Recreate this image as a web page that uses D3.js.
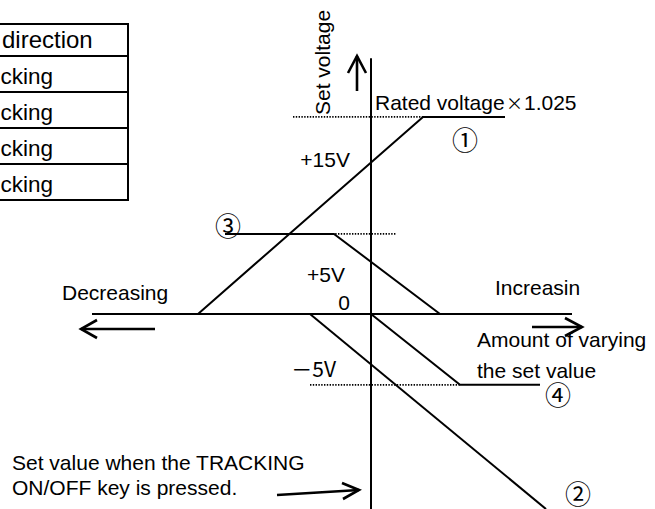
<!DOCTYPE html>
<html>
<head>
<meta charset="utf-8">
<script src="https://cdn.jsdelivr.net/npm/d3@7"></script>
<style>
  html, body { margin: 0; padding: 0; background: #fff; }
  svg { display: block; }
  text { font-family: "Liberation Sans", Arial, sans-serif; fill: #000; }
  .cjk { font-family: "Noto Sans CJK JP", "Liberation Sans", sans-serif; }
</style>
</head>
<body>
<script>
// ---- data (x: amount of varying the set value, y: set voltage) ----
const seriesNames = ["①", "②", "③", "④"];
const s1x = [-17.3, 5.2, 13.4];
const s1y = [0, 19.2, 19.2];
const s2x = [-6.1, 17.5];
const s2y = [0, -19.0];
const s3x = [-14.6, -3.7, 6.9];
const s3y = [7.8, 7.8, 0];
const s4x = [0, 8.9, 16.9];
const s4y = [0, -6.9, -6.9];
// dotted guide lines: level, from, to
const guideLevel = [19.2, 7.8, -6.9];
const guideFrom = [-7.8, -6.1, -6.1];
const guideTo = [5.2, 2.5, 8.9];
// voltage labels
const tickValues = [15, 5, 0, -5];
const tickLabels = ["+15V", "+5V", "0", "－5V"];
// table rows (left part clipped in the original)
const tableRows = ["direction", "cking", "cking", "cking", "cking"];

const W = 655, H = 509;
const svg = d3.select("body").append("svg").attr("width", W).attr("height", H);

const x = d3.scaleLinear().domain([0, 10]).range([371, 471]);
const y = d3.scaleLinear().domain([0, 15]).range([314, 160]);

const line = d3.line().x(d => x(d[0])).y(d => y(d[1]));
const zipXY = (xs, ys) => xs.map((v, i) => [v, ys[i]]);

// ---- axes ----
svg.append("path").attr("d", line([[0, 24.9], [0, -19.2]]))
  .attr("stroke", "#000").attr("stroke-width", 2).attr("fill", "none");
svg.append("path").attr("d", line([[-27.9, 0], [20.1, 0]]))
  .attr("stroke", "#000").attr("stroke-width", 2).attr("fill", "none");

// ---- dotted guides ----
guideLevel.forEach((lv, i) => {
  svg.append("path").attr("d", line([[guideFrom[i], lv], [guideTo[i], lv]]))
    .attr("stroke", "#000").attr("stroke-width", 1.6)
    .attr("stroke-dasharray", "1.4,1.4").attr("fill", "none");
});

// ---- series ----
const series = [zipXY(s1x, s1y), zipXY(s2x, s2y), zipXY(s3x, s3y), zipXY(s4x, s4y)];
svg.selectAll("path.series").data(series).enter().append("path")
  .attr("class", "series")
  .attr("d", d => line(d))
  .attr("stroke", "#000").attr("stroke-width", 2).attr("fill", "none");

// circled series labels (pixel anchors)
const seriesLabelPos = [[465, 138], [578, 492], [228, 224], [558, 393]];
svg.selectAll("text.slabel").data(seriesNames).enter().append("text")
  .attr("class", "slabel cjk")
  .attr("x", (d, i) => seriesLabelPos[i][0])
  .attr("y", (d, i) => seriesLabelPos[i][1])
  .attr("text-anchor", "middle").attr("dominant-baseline", "central")
  .attr("font-size", 26).text(d => d);

// ---- voltage labels ----
const tickLayout = [{ right: 350, base: 167 }, { right: 345, base: 282 }, { right: 350, base: 310 }, { right: 336, base: 377 }];
tickLabels.forEach((t, i) => {
  svg.append("text")
    .attr("class", t.startsWith("－") ? "cjk" : null)
    .attr("x", tickLayout[i].right).attr("y", tickLayout[i].base)
    .attr("text-anchor", "end").attr("font-size", 21).text(t);
});

// ---- arrows ----
function arrow(pts, head) {
  svg.append("path").attr("d", d3.line()(pts))
    .attr("stroke", "#000").attr("stroke-width", 2.6).attr("fill", "none");
  svg.append("path").attr("d", d3.line()(head))
    .attr("stroke", "#000").attr("stroke-width", 2.6).attr("fill", "none")
    .attr("stroke-linejoin", "miter");
}
arrow([[357, 91], [357, 56]], [[348, 73], [357, 56], [366, 73]]);
arrow([[155, 329], [81, 329]], [[97, 320], [81, 329], [97, 338]]);
arrow([[532, 327], [582, 327]], [[565, 318], [582, 327], [565, 336]]);
arrow([[277, 495], [359, 490]], [[342, 483], [359, 490], [343, 499]]);

// ---- texts ----
const T = (tx, ty, s, size) => svg.append("text").attr("x", tx).attr("y", ty)
  .attr("font-size", size || 21).text(s);

svg.append("text").attr("transform", "translate(330,115) rotate(-90)")
  .attr("font-size", 21).text("Set voltage");
T(375, 110, "Rated voltage");
svg.append("text").attr("class", "cjk").attr("x", 506).attr("y", 110)
  .attr("font-size", 17).text("×");
T(524, 110, "1.025");
T(62, 300, "Decreasing");
T(495, 295, "Increasin");
T(477, 347, "Amount of varying");
T(477, 378, "the set value");
T(12, 470, "Set value when the TRACKING");
T(12, 495, "ON/OFF key is pressed.");

// ---- table (clipped at left edge) ----
const rowEdges = [24, 56, 92, 128, 164, 200];
svg.append("rect").attr("x", -20).attr("y", rowEdges[0])
  .attr("width", 148).attr("height", rowEdges[5] - rowEdges[0])
  .attr("fill", "none").attr("stroke", "#000").attr("stroke-width", 2);
rowEdges.slice(1, 5).forEach(r => {
  svg.append("line").attr("x1", -20).attr("x2", 128).attr("y1", r).attr("y2", r)
    .attr("stroke", "#000").attr("stroke-width", 2);
});
tableRows.forEach((t, i) => {
  svg.append("text").attr("x", i === 0 ? 2 : 0.5).attr("y", rowEdges[i + 1] - 8)
    .attr("font-size", i === 0 ? 24 : 22.5).text(t);
});
</script>
</body>
</html>
